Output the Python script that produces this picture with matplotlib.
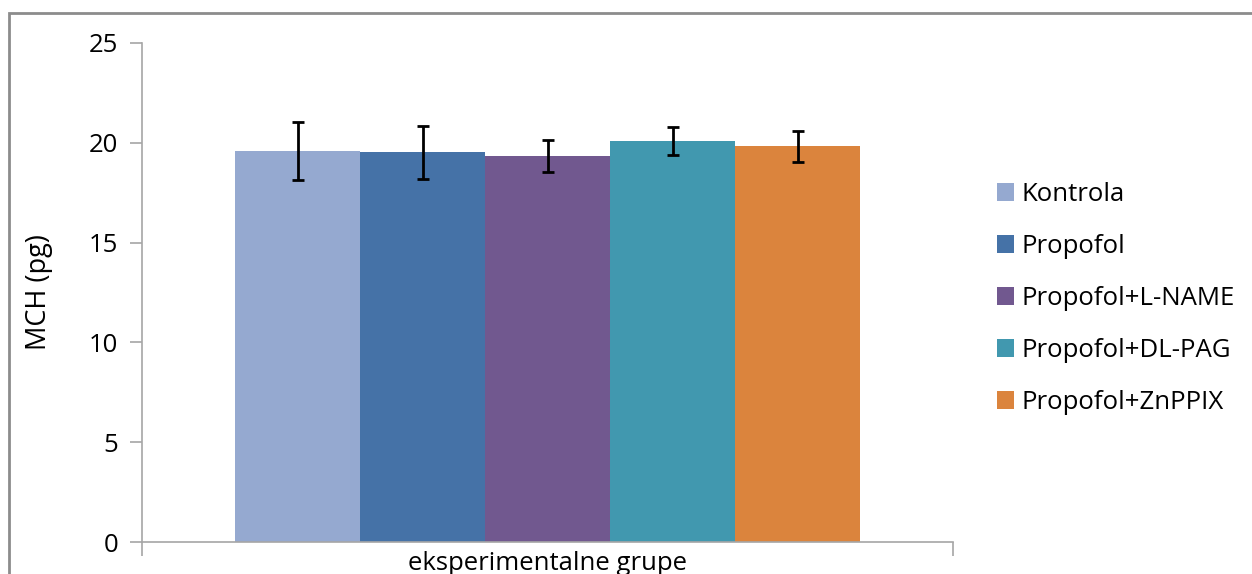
import matplotlib.pyplot as plt
import numpy as np
from matplotlib.patches import Rectangle

groups = ["Kontrola", "Propofol", "Propofol+L-NAME", "Propofol+DL-PAG", "Propofol+ZnPPIX"]
mch = [19.57, 19.52, 19.32, 20.08, 19.83]
sd = [1.45, 1.33, 0.80, 0.70, 0.78]
colors = ["#95a9d0", "#4572a7", "#71588f", "#4198af", "#db843d"]

plt.rcParams.update({"font.family": ["Open Sans", "DejaVu Sans"], "font.size": 18})

fig = plt.figure(figsize=(12.52, 5.74), dpi=100)
ax = fig.add_axes([142 / 1252, 32 / 574, 811 / 1252, 499 / 574])

x = np.arange(len(groups)) - (len(groups) - 1) / 2
for xi, v, e, c, g in zip(x, mch, sd, colors, groups):
    ax.bar(xi, v, width=1.0, color=c, label=g, zorder=2)
    ax.errorbar(xi, v, yerr=e, fmt="none", ecolor="black", elinewidth=2,
                capsize=4, capthick=2, zorder=3)

ax.set_xlim(-811 / 250, 811 / 250)
ax.set_ylim(0, 25)
ax.set_yticks([0, 5, 10, 15, 20, 25])
ax.set_xticks([-811 / 250, 811 / 250])
ax.set_xticklabels(["", ""])
for s in ["top", "right"]:
    ax.spines[s].set_visible(False)
for s in ["left", "bottom"]:
    ax.spines[s].set_color("#a6a6a6")
    ax.spines[s].set_linewidth(1.2)
ax.tick_params(axis="y", length=9, width=1.2, color="#a6a6a6", pad=8, labelsize=18.5)
ax.tick_params(axis="x", length=10, width=1.2, color="#a6a6a6")
ax.set_ylabel("MCH (pg)", fontsize=19.5, labelpad=26)
ax.set_xlabel("eksperimentalne grupe", fontsize=18.5, labelpad=-7)

ax.legend(loc="center left", bbox_to_anchor=(1.054, 0.488), frameon=False,
          fontsize=18.5, handlelength=0.66, handleheight=0.66, handletextpad=0.3,
          labelspacing=1.05, borderaxespad=0, borderpad=0)

fig.patches.append(Rectangle((9 / 1252, -0.1), 1.2, 1 - 13 / 574 + 0.1,
                             transform=fig.transFigure, fill=False,
                             edgecolor="#8c8c8c", linewidth=2))

fig.savefig("out.png", dpi=100)
